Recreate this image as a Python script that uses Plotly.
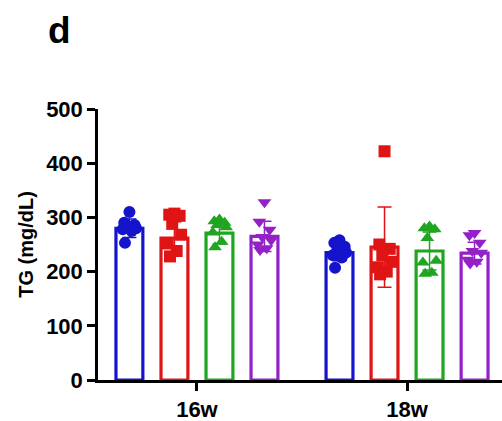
import plotly.graph_objects as go

categories = ["16w", "18w"]
groups = ["G1", "G2", "G3", "G4"]
colors = ["#1414CC", "#E01414", "#1FA51F", "#9420C8"]
symbols = ["circle", "square", "triangle-up", "triangle-down"]

means = {
    "G1": [280, 235],
    "G2": [262, 245],
    "G3": [271, 238],
    "G4": [265, 234],
}
sds = {
    "G1": [17, 15],
    "G2": [30, 74],
    "G3": [20, 35],
    "G4": [28, 20],
}
points = {
    "G1": [[310, 290, 286, 282, 280, 278, 275, 253],
           [258, 253, 246, 240, 235, 230, 226, 207]],
    "G2": [[307, 305, 303, 288, 268, 252, 238, 228],
           [422, 250, 242, 230, 218, 208, 200, 195]],
    "G3": [[296, 293, 290, 286, 282, 272, 255, 245],
           [283, 280, 278, 262, 220, 217, 198, 196]],
    "G4": [[328, 292, 277, 264, 258, 250, 243, 240],
           [271, 267, 253, 238, 235, 222, 218, 215]],
}
jitter = [0.0, -0.35, 0.35, -0.15, 0.45, -0.45, 0.15, -0.3]
yticks = [0, 100, 200, 300, 400, 500]

bar_step = 0.2143
bar_w = 0.128

fig = go.Figure()
for k, g in enumerate(groups):
    xs = [i + (k - 1.5) * bar_step for i in range(len(categories))]
    fig.add_trace(go.Bar(
        x=xs, y=means[g], width=bar_w,
        marker=dict(color="white", line=dict(color=colors[k], width=3.2)),
        error_y=dict(type="data", array=sds[g], color=colors[k], thickness=1.5, width=7),
        showlegend=False,
    ))
for k, g in enumerate(groups):
    for i in range(len(categories)):
        cx = i + (k - 1.5) * bar_step
        vals = points[g][i]
        px = [cx + jitter[j % len(jitter)] * bar_w * 0.55 for j in range(len(vals))]
        fig.add_trace(go.Scatter(
            x=px, y=vals, mode="markers",
            marker=dict(symbol=symbols[k], color=colors[k], size=12, line=dict(width=0)),
            showlegend=False,
        ))

fig.update_layout(
    width=502, height=421,
    margin=dict(l=98, r=0, t=109, b=41),
    paper_bgcolor="white", plot_bgcolor="white",
    font=dict(family="Liberation Sans, Arial", color="black"),
    barmode="overlay",
    annotations=[dict(text="<b>d</b>", x=(46 - 98) / (502 - 98), y=(380 - 31) / (380 - 109),
                      xref="paper", yref="paper",
                      showarrow=False, font=dict(size=37, color="black"),
                      xanchor="left", yanchor="middle")],
)

fig.update_xaxes(
    range=[-0.471, 1.452],
    tickvals=list(range(len(categories))), ticktext=["<b>%s</b>" % c for c in categories],
    showline=True, linecolor="black", linewidth=2.5,
    ticks="outside", ticklen=8, tickwidth=2.5, tickcolor="black",
    tickfont=dict(size=22),
    showgrid=False, zeroline=False,
)
fig.update_yaxes(
    range=[0, 500], tickvals=yticks,
    ticktext=["<b>%d</b>" % v for v in yticks],
    showline=True, linecolor="black", linewidth=2.5,
    ticks="outside", ticklen=8, tickwidth=2.5, tickcolor="black",
    tickfont=dict(size=22),
    title=dict(text="<b>TG (mg/dL)</b>", font=dict(size=20), standoff=8),
    showgrid=False, zeroline=False,
)

fig.write_html("out.html")
